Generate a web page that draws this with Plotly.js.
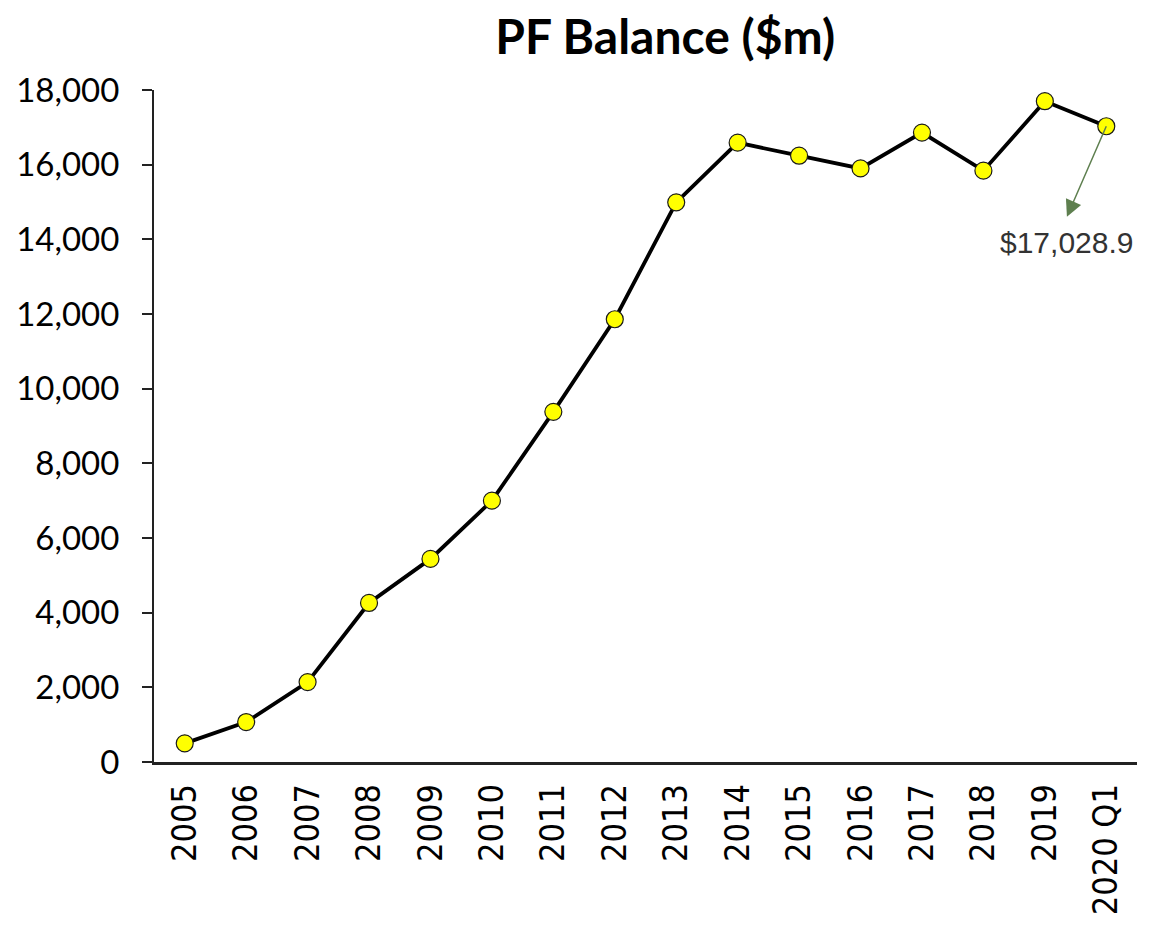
<!DOCTYPE html>
<html>
<head>
<meta charset="utf-8">
<script src="https://cdn.plot.ly/plotly-3.0.1.min.js"></script>
<style>
html,body{margin:0;padding:0;background:#fff;}
#chart{width:1150px;height:930px;}
</style>
</head>
<body>
<div id="chart"></div>
<script>
const categories = ["2005","2006","2007","2008","2009","2010","2011","2012","2013","2014","2015","2016","2017","2018","2019","2020 Q1"];
const balance = [500, 1070, 2140, 4260, 5440, 7000, 9380, 11860, 14990, 16590, 16240, 15900, 16860, 15840, 17700, 17028.9];
const yTickVals = [0, 2000, 4000, 6000, 8000, 10000, 12000, 14000, 16000, 18000];
const yTickText = ["0", "2,000", "4,000", "6,000", "8,000", "10,000", "12,000", "14,000", "16,000", "18,000"];
const calloutText = "$17,028.9";
const lastIdx = categories.length - 1;

const humanist = "Lato, Open Sans, sans-serif";

const trace = {
  x: categories,
  y: balance,
  type: 'scatter',
  mode: 'lines+markers',
  line: {color: '#000000', width: 3.8},
  marker: {size: 17, color: '#FFFF00', line: {color: '#1a1a1a', width: 1.2}},
  cliponaxis: false,
  hoverinfo: 'x+y'
};

const layout = {
  width: 1150,
  height: 930,
  paper_bgcolor: '#ffffff',
  plot_bgcolor: '#ffffff',
  margin: {l: 154, r: 13, t: 90, b: 168},
  showlegend: false,
  title: {
    text: '<b>PF Balance ($m)</b>',
    font: {family: humanist, size: 48, color: '#000000'},
    xref: 'paper', x: 0.52, xanchor: 'center',
    yref: 'container', y: 1 - 37/930, yanchor: 'middle'
  },
  xaxis: {
    type: 'category',
    range: [-0.5, 15.5],
    showline: true, linecolor: '#222222', linewidth: 2.5,
    showgrid: false, zeroline: false,
    ticks: '',
    tickangle: -90,
    ticklabelstandoff: 6,
    tickfont: {family: "DejaVu Sans Condensed, DejaVu Sans, sans-serif", size: 34, color: '#000000'}
  },
  yaxis: {
    range: [0, 18000],
    tickvals: yTickVals,
    ticktext: yTickText,
    showline: true, linecolor: '#222222', linewidth: 2,
    showgrid: false, zeroline: false,
    ticks: 'outside', ticklen: 10, tickwidth: 2, tickcolor: '#222222',
    ticklabelstandoff: 16,
    tickfont: {family: humanist, size: 33, color: '#000000'}
  },
  annotations: [
    {
      x: categories[lastIdx], y: balance[lastIdx], xref: 'x', yref: 'y',
      text: '', showarrow: true,
      ax: -40, ay: 92,
      arrowside: 'start', startarrowhead: 2, startarrowsize: 2.2, arrowwidth: 1.5,
      arrowcolor: '#5e7f4f'
    },
    {
      x: categories[lastIdx], y: balance[lastIdx], xref: 'x', yref: 'y',
      text: calloutText, showarrow: false,
      xshift: -40, yshift: -116,
      font: {family: "Liberation Sans, Arial, sans-serif", size: 30, color: '#333333'}
    }
  ]
};

Plotly.newPlot('chart', [trace], layout, {displayModeBar: false, staticPlot: true});
</script>
</body>
</html>
